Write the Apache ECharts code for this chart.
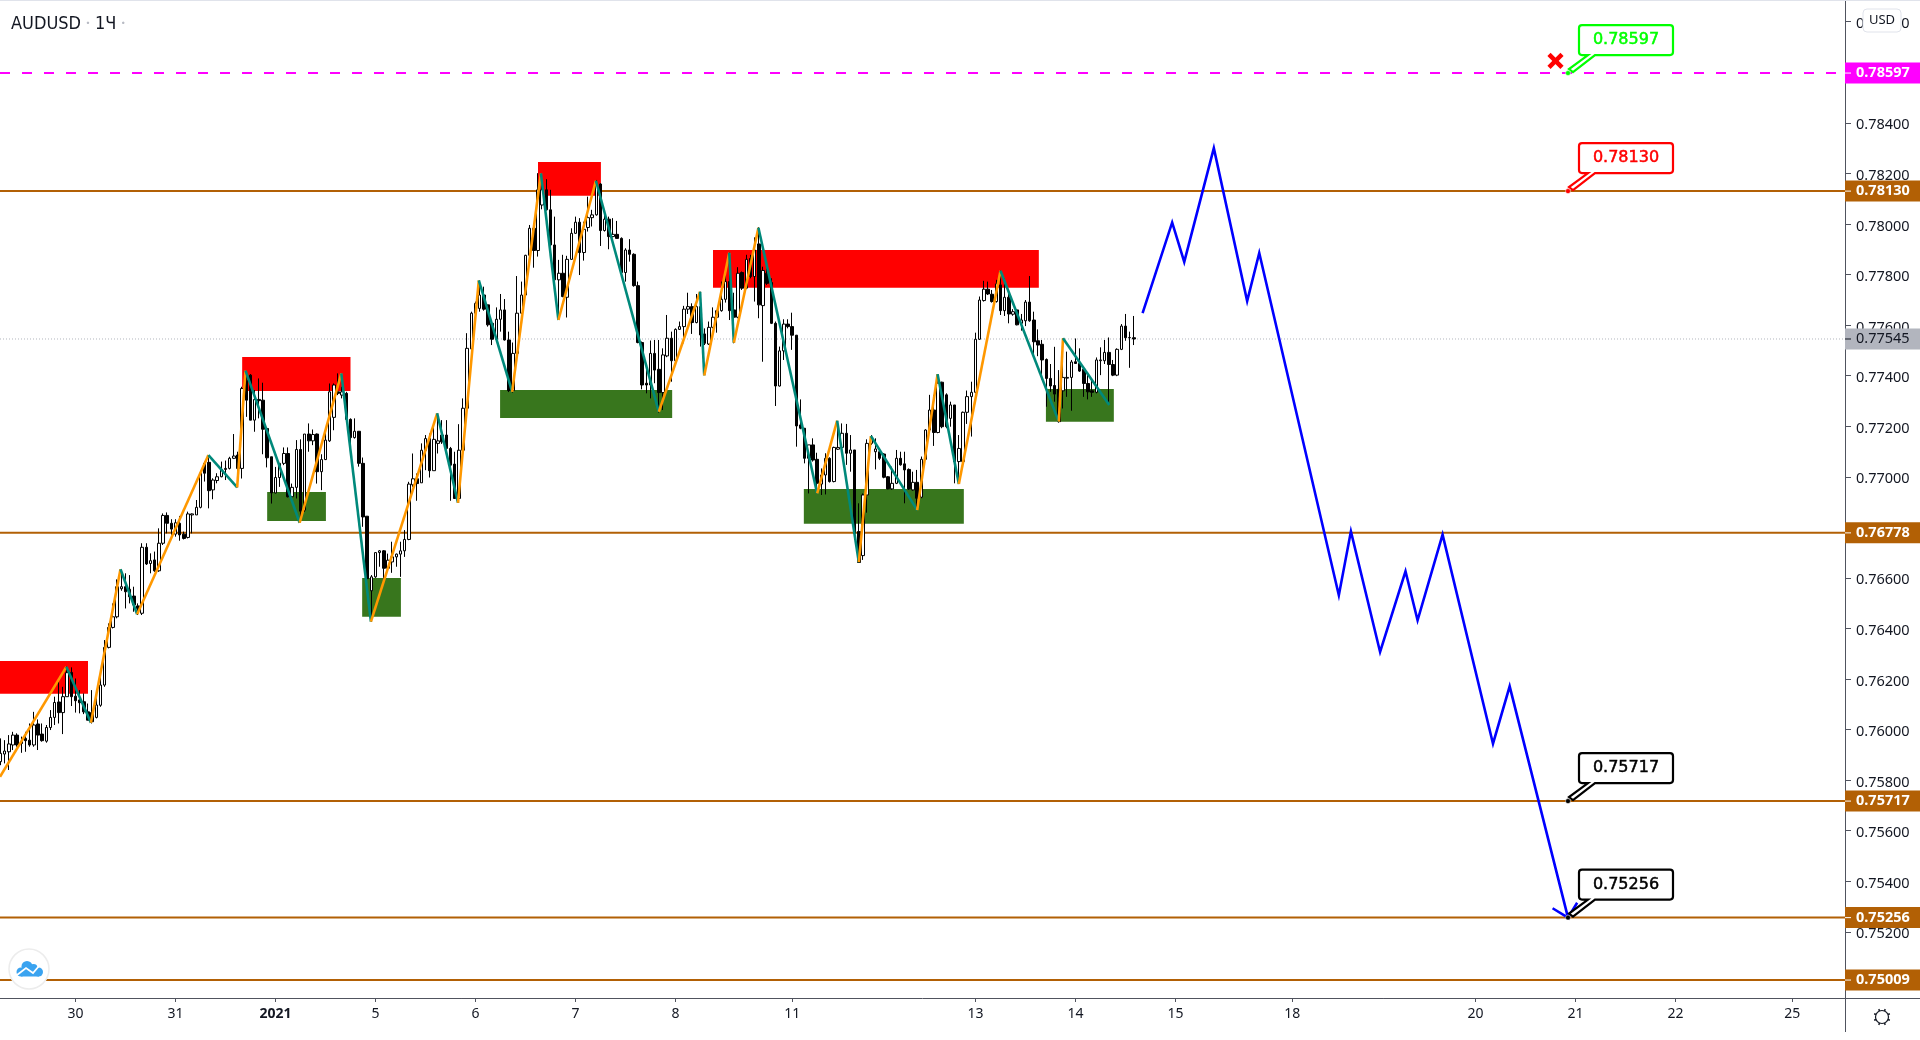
<!DOCTYPE html>
<html>
<head>
<meta charset="utf-8">
<style>html,body{margin:0;padding:0;background:#fff}#c{width:1920px;height:1040px}</style>
<script src="https://cdn.jsdelivr.net/npm/echarts@6/dist/echarts.min.js"></script>
</head>
<body>
<div id="c"></div>
<script>
// All prices below are in points of 0.00001 (76125 = 0.76125). Rows: [open, close, low, high]
const candles = [
[75873,75906,75859,75965],[75903,75915,75866,75958],[75912,75943,75840,75978],[75939,75978,75919,75991],[75978,75939,75932,75985],[75952,75945,75908,75972],
[75965,75956,75912,75991],[75958,75939,75932,76024],[75939,76018,75932,76070],[76022,75978,75919,76040],[75982,75956,75952,76024],[75954,76008,75948,76018],
[76008,76048,75998,76077],[76048,76107,76018,76130],[76109,76067,76024,76189],[76067,76130,75982,76169],[76130,76225,76130,76249],[76226,76130,76093,76246],
[76132,76114,76067,76202],[76117,76106,76064,76156],[76110,76070,76061,76143],[76070,76037,76037,76103],[76067,76031,76024,76156],[76048,76097,76044,76143],
[76096,76176,76090,76209],[76176,76325,76169,76354],[76325,76404,76321,76420],[76404,76446,76400,76499],[76446,76565,76440,76594],[76557,76565,76549,76631],
[76565,76545,76479,76618],[76555,76525,76499,76611],[76528,76493,76466,76565],[76489,76479,76453,76499],[76460,76721,76453,76737],[76721,76655,76651,76737],
[76657,76668,76618,76697],[76671,76628,76624,76704],[76628,76737,76624,76796],[76737,76847,76730,76855],[76847,76816,76776,76859],[76816,76793,76770,76832],
[76773,76818,76763,76832],[76816,76770,76747,76845],[76773,76756,76752,76783],[76760,76853,76756,76862],[76849,76853,76776,76855],[76849,76879,76849,76908],
[76879,77014,76875,77020],[77053,77014,76981,77060],[77057,76945,76875,77079],[76948,76987,76911,76994],[76985,77000,76974,77014],[77000,77029,76998,77060],
[77029,77033,76987,77064],[77033,77073,77029,77079],[77073,77082,77070,77169],[77086,77033,76958,77099],[77033,77349,76993,77356],[77382,77303,77237,77419],
[77402,77224,77224,77406],[77224,77306,77178,77343],[77306,77301,77231,77389],[77303,77188,77089,77372],[77191,77075,77037,77191],[77079,76936,76894,77079],
[76936,76997,76934,77039],[76997,77053,76960,77053],[77053,77092,77046,77116],[77092,76921,76918,77116],[76921,76958,76914,76973],[76958,77108,76914,77145],
[77108,76864,76828,77148],[76868,77169,76861,77169],[77169,77142,77099,77211],[77142,77167,77125,77187],[77169,77020,76973,77171],[77020,77068,76947,77089],
[77068,77145,77066,77178],[77142,77336,77138,77369],[77235,77363,77184,77369],[77336,77330,77323,77409],[77323,77336,77310,77356],[77330,77227,77224,77336],
[77227,77155,77105,77231],[77155,77180,77151,77231],[77180,77053,77040,77180],[77053,76841,76802,77076],[76844,76597,76551,76844],[76549,76604,76426,76611],
[76604,76700,76600,76700],[76700,76707,76644,76710],[76707,76638,76591,76710],[76638,76670,76624,76696],[76663,76683,76620,76743],[76683,76694,76644,76696],
[76694,76707,76604,76743],[76707,76752,76683,76789],[76752,76971,76749,76980],[76968,76992,76960,77092],[76992,76973,76905,77013],[76976,77105,76976,77132],
[77105,77151,77026,77165],[77151,77024,76997,77171],[77024,77148,77024,77200],[77132,77142,77092,77250],[77165,77138,77130,77224],[77165,77112,77079,77224],
[77112,77046,76905,77118],[77050,76914,76914,77099],[76914,77105,76897,77208],[77105,77271,77100,77310],[77271,77508,77267,77568],[77506,77647,77502,77653],
[77647,77686,77640,77693],[77666,77719,77653,77776],[77719,77663,77657,77752],[77680,77601,77594,77680],[77607,77544,77521,77620],[77544,77623,77541,77670],
[77623,77660,77574,77723],[77660,77541,77539,77703],[77541,77341,77335,77574],[77341,77488,77333,77531],[77488,77647,77486,77794],[77647,77719,77644,77772],
[77719,77876,77713,77878],[77876,77983,77874,77996],[77983,77895,77827,78003],[77895,78135,77871,78201],[78075,78135,78058,78201],[78135,78056,78053,78177],
[78056,77917,77910,78135],[77917,77779,77775,78029],[77779,77805,77620,77858],[77805,77713,77710,77878],[77710,77860,77630,77874],[77860,77963,77858,77983],
[77963,78007,77961,78029],[78007,77887,77798,78023],[77887,77979,77855,78009],[77986,78025,77970,78108],[78025,78036,77990,78056],[78036,78161,78033,78174],
[78158,77974,77913,78161],[77974,78019,77970,78036],[78019,77950,77900,78029],[77950,77959,77947,78023],[77959,77943,77943,78012],[77943,77808,77794,77947],
[77808,77897,77772,77904],[77897,77880,77851,77940],[77880,77756,77752,77884],[77756,77531,77528,77772],[77531,77363,77346,77535],[77370,77363,77330,77442],
[77363,77488,77310,77539],[77488,77422,77370,77541],[77425,77333,77254,77541],[77333,77482,77264,77508],[77478,77548,77473,77640],[77548,77459,77376,77574],
[77459,77583,77455,77587],[77583,77594,77581,77614],[77594,77663,77528,77676],[77663,77673,77644,77728],[77673,77610,77565,77686],[77610,77673,77607,77723],
[77673,77561,77515,77732],[77565,77528,77521,77587],[77525,77591,77521,77614],[77591,77631,77587,77670],[77631,77657,77570,77660],[77657,77702,77653,77772],
[77702,77772,77689,77798],[77772,77657,77620,77887],[77660,77631,77528,77728],[77631,77805,77627,77829],[77808,77746,77739,77812],[77746,77860,77742,77878],
[77864,77792,77785,77878],[77792,77897,77693,77947],[77921,77680,77627,77987],[77677,77816,77455,77831],[77805,77765,77759,77825],[77768,77607,77604,77785],
[77607,77359,77280,77614],[77359,77498,77357,77515],[77498,77604,77462,77623],[77604,77594,77587,77623],[77594,77560,77502,77649],[77560,77201,77119,77561],
[77205,77192,77188,77306],[77192,77073,77053,77192],[77073,77126,76934,77126],[77126,77066,77060,77152],[77069,76974,76934,77095],[76971,77007,76928,77033],
[77007,77073,76930,77093],[77073,76981,76977,77077],[76981,77116,76978,77119],[77109,77116,77106,77218],[77116,77172,77112,77211],[77172,77093,77047,77209],
[77093,77106,77020,77165],[77106,76776,76750,77106],[76783,76661,76661,76895],[76688,76928,76671,76934],[76928,77132,76858,77148],[77132,77152,77126,77165],
[77099,77110,77029,77152],[77099,77073,77066,77106],[77090,76998,76994,77093],[77000,76952,76950,77003],[76952,76974,76948,77040],[76974,77073,76971,77106],
[77073,77047,77044,77099],[77051,77027,76895,77099],[77029,76952,76948,77033],[76948,76978,76945,77020],[76978,76915,76868,77027],[76919,77069,76915,77080],
[77069,77185,77066,77188],[77185,77264,77178,77324],[77264,77175,77122,77324],[77175,77370,77172,77406],[77374,77198,77192,77376],[77324,77198,77192,77330],
[77231,77284,77198,77297],[77284,77060,76974,77284],[77060,77112,76971,77165],[77060,77255,77053,77258],[77255,77317,77209,77341],[77317,77334,77159,77376],
[77334,77544,77330,77570],[77544,77699,77541,77713],[77697,77742,77693,77775],[77742,77723,77719,77772],[77722,77693,77689,77739],[77693,77763,77689,77779],
[77759,77657,77640,77816],[77657,77710,77636,77785],[77710,77644,77607,77739],[77643,77653,77637,77663],[77660,77601,77599,77663],[77607,77620,77578,77644],
[77617,77691,77596,77699],[77691,77617,77613,77794],[77620,77534,77475,77653],[77538,77521,77477,77583],[77524,77462,77385,77541],[77464,77389,77277,77468],
[77389,77359,77336,77446],[77361,77327,77297,77514],[77346,77218,77214,77422],[77340,77393,77270,77547],[77390,77393,77316,77495],[77393,77454,77261,77462],
[77455,77448,77446,77547],[77448,77418,77415,77508],[77425,77369,77316,77435],[77369,77336,77306,77402],[77340,77334,77316,77382],[77334,77462,77330,77472],
[77459,77462,77402,77512],[77459,77492,77446,77541],[77492,77444,77287,77551],[77444,77402,77398,77462],[77402,77504,77398,77508],[77504,77596,77501,77604],
[77596,77550,77538,77644],[77550,77551,77431,77574],[77550,77545,77521,77636]
];

// X axis: bar index of each day label
const dayBars   = [18,42,66,90,114,138,162,190,234,258,282,310,354,378,402,430];
const dayLabels = ['30','31','2021','5','6','7','8','11','13','14','15','18','20','21','22','25'];

// Y axis ticks
const priceTicks = [75200,75400,75600,75800,76000,76200,76400,76600,76800,77000,77200,77400,77600,77800,78000,78200,78400,78600,78800];

// Zigzag pivots
const pivotBars   = [-0.12,15.8,21.7,28.8,32.8,49.9,56.8,58.8,71.8,81.8,88.9,104.8,109.8,114.8,122.8,129.7,133.9,142.9,158,167.9,168.9,174.9,176,181.9,196,200.8,206,208.9,220,224.9,230,240,254,255,266.1];
const pivotPrices = [75813,76248,76027,76634,76456,77086,76958,77420,76818,77409,76427,77251,76897,77777,77336,78200,77620,78171,77257,77732,77401,77886,77530,77985,76934,77222,76662,77161,76868,77406,76971,77815,77218,77548,77284];

// Projected path (blue) with its arrow head at the end
const pathBars   = [274.1,281.2,284.1,291.2,299.2,302.1,321.2,324.1,331.1,337.2,340.1,346.1,358.2,362.2,376.2,372.5,376.2,378.4];
const pathPrices = [77647,78006,77850,78300,77695,77885,76531,76784,76307,76626,76432,76771,75944,76171,75256,75293,75256,75315];

// Supply / demand zones: [first bar, last bar, low, high]
const redZones   = [[-0.12,21,76142,76271],[58,84,77339,77474],[129,144.1,78112,78245],[171,249.2,77748,77897]];
const greenZones = [[64,78.1,76825,76940],[86.8,96.1,76446,76599],[119.9,161.2,77232,77343],[192.8,231.2,76814,76952],[250.9,267.2,77218,77347]];

// Horizontal levels
const levelPrices = [78130,76778,75717,75256,75009];
const targetPrice = 78597;
const lastPrice   = 77545;

// Callouts on the price levels
const calloutBar    = 376.2;
const calloutPrices = [78597,78130,75717,75256];
const calloutColors = ['#00ff00','#ff0000','#000000','#000000'];

const crossPoint = [373.2,78645];

const barMin = -0.12, barMax = 442.68;
const priceMin = 0.74938, priceMax = 0.78886;
const AXIS_TEXT = '#131722', AXIS_LINE = '#50535e', LEVEL = '#b26005', MAGENTA = '#ff00ff';
const FONT = '"Noto Sans", sans-serif';

const P = v => v / 100000;
const fmt = v => P(v).toFixed(5);

function zoneSeries(zones, color, name) {
  return {
    type: 'custom', name, z: 3, silent: true, clip: true, animation: false,
    data: zones,
    encode: { x: [0, 1], y: [2, 3] },
    renderItem(params, api) {
      const a = api.coord([api.value(0), P(api.value(3))]);
      const b = api.coord([api.value(1), P(api.value(2))]);
      return { type: 'rect', shape: { x: a[0], y: a[1], width: b[0] - a[0], height: b[1] - a[1] }, style: { fill: color } };
    }
  };
}

function hLine(value, color, width, dash, z) {
  return {
    type: 'line', silent: true, symbol: 'none', z: z, animation: false,
    data: [[barMin, P(value)], [barMax, P(value)]],
    lineStyle: { color, width, type: dash || 'solid' }
  };
}

const zigzag = [];
for (let k = 0; k + 1 < pivotBars.length; k++) {
  const up = pivotPrices[k + 1] > pivotPrices[k];
  zigzag.push({
    type: 'line', silent: true, symbol: 'none', z: 6, animation: false,
    data: [[pivotBars[k], P(pivotPrices[k])], [pivotBars[k + 1], P(pivotPrices[k + 1])]],
    lineStyle: { color: up ? '#ff9800' : '#00897b', width: 2.6 }
  });
}

// Price tags on the right axis
const tagPrices = [targetPrice, ...levelPrices, lastPrice];
const tagFill   = [MAGENTA, LEVEL, LEVEL, LEVEL, LEVEL, LEVEL, '#b2b5be'];
const tagText   = ['#ffffff', '#ffffff', '#ffffff', '#ffffff', '#ffffff', '#ffffff', '#131722'];
const tagBold   = ['bold', 'bold', 'bold', 'bold', 'bold', 'bold', 'normal'];

const tagSeries = {
  type: 'custom', z: 20, silent: true, clip: false, animation: false,
  data: tagPrices.map(v => [barMax, P(v)]),
  encode: { x: 0, y: 1 },
  renderItem(params, api) {
    const i = params.dataIndex;
    const c = api.coord([api.value(0), api.value(1)]);
    return {
      type: 'group',
      children: [
        { type: 'rect', shape: { x: c[0], y: c[1] - 10.5, width: 75, height: 21 }, style: { fill: tagFill[i] } },
        { type: 'rect', shape: { x: c[0], y: c[1] - 0.5, width: 6, height: 1 }, style: { fill: tagText[i] } },
        { type: 'text', x: c[0] + 11, y: c[1], style: { text: fmt(tagPrices[i]), fill: tagText[i], font: tagBold[i] + ' 14.5px ' + FONT, verticalAlign: 'middle', align: 'left' } }
      ]
    };
  }
};

const calloutSeries = {
  type: 'custom', z: 15, silent: true, clip: false, animation: false,
  data: calloutPrices.map(v => [calloutBar, P(v)]),
  encode: { x: 0, y: 1 },
  renderItem(params, api) {
    const i = params.dataIndex, col = calloutColors[i];
    const c = api.coord([api.value(0), api.value(1)]);
    const x = c[0], y = c[1];
    const d = 'M' + (x + 14) + ' ' + (y - 48) + 'L' + (x + 102) + ' ' + (y - 48) +
      'Q' + (x + 105) + ' ' + (y - 48) + ' ' + (x + 105) + ' ' + (y - 45) +
      'L' + (x + 105) + ' ' + (y - 21) + 'Q' + (x + 105) + ' ' + (y - 18) + ' ' + (x + 102) + ' ' + (y - 18) +
      'L' + (x + 27) + ' ' + (y - 18) + 'L' + (x + 5) + ' ' + (y - 1) + 'L' + (x + 1) + ' ' + (y - 4) + 'L' + (x + 20) + ' ' + (y - 18) +
      'L' + (x + 14) + ' ' + (y - 18) + 'Q' + (x + 11) + ' ' + (y - 18) + ' ' + (x + 11) + ' ' + (y - 21) +
      'L' + (x + 11) + ' ' + (y - 45) + 'Q' + (x + 11) + ' ' + (y - 48) + ' ' + (x + 14) + ' ' + (y - 48) + 'Z';
    return {
      type: 'group',
      children: [
        { type: 'path', shape: { pathData: d }, style: { fill: '#ffffff', stroke: col, lineWidth: 2.2 } },
        { type: 'circle', shape: { cx: x, cy: y, r: 2.5 }, style: { fill: col, stroke: '#ffffff', lineWidth: 0.5 } },
        { type: 'text', x: x + 58, y: y - 33, style: { text: fmt(calloutPrices[i]), fill: col, stroke: col, lineWidth: 0.5, font: '16px "DejaVu Sans", sans-serif', align: 'center', verticalAlign: 'middle' } }
      ]
    };
  }
};

const crossSeries = {
  type: 'custom', z: 15, silent: true, clip: false, animation: false,
  data: [[crossPoint[0], P(crossPoint[1])]],
  encode: { x: 0, y: 1 },
  renderItem(params, api) {
    const c = api.coord([api.value(0), api.value(1)]);
    const s = 6.5, st = { stroke: '#ff0000', lineWidth: 4.5 };
    return {
      type: 'group',
      children: [
        { type: 'line', shape: { x1: c[0] - s, y1: c[1] - s, x2: c[0] + s, y2: c[1] + s }, style: st },
        { type: 'line', shape: { x1: c[0] - s, y1: c[1] + s, x2: c[0] + s, y2: c[1] - s }, style: st }
      ]
    };
  }
};

// Chrome that lives outside the plot
const gearTicks = [];
for (let a = 0; a < 8; a++) {
  const t = a * Math.PI / 4 + Math.PI / 8;
  gearTicks.push({
    type: 'line', z: 30, silent: true,
    shape: { x1: 1882 + 6.5 * Math.cos(t), y1: 1017 + 6.5 * Math.sin(t), x2: 1882 + 8.5 * Math.cos(t), y2: 1017 + 8.5 * Math.sin(t) },
    style: { stroke: AXIS_TEXT, lineWidth: 1.5 }
  });
}
const CLOUD = '#3aa3f0';

const chart = echarts.init(document.getElementById('c'), null, { renderer: 'canvas' });
chart.setOption({
  animation: false,
  backgroundColor: '#ffffff',
  title: {
    left: 11, top: 15, padding: 0,
    text: '{n|AUDUSD} {d|·} {n|1Ч} {d|·}',
    textStyle: {
      rich: {
        n: { fontFamily: '"DejaVu Sans Condensed","Noto Sans",sans-serif', fontSize: 18, color: AXIS_TEXT, fontWeight: 'normal' },
        d: { fontFamily: FONT, fontSize: 14, color: '#b8bbc4', fontWeight: 'bold' }
      }
    }
  },
  grid: { left: 0, right: 75, top: 0, bottom: 42, containLabel: false },
  xAxis: {
    type: 'value', min: barMin, max: barMax, splitLine: { show: false },
    axisLine: { show: true, onZero: false, lineStyle: { color: AXIS_LINE, width: 1 } },
    axisTick: { show: true, length: 4, lineStyle: { color: AXIS_LINE }, customValues: dayBars },
    axisLabel: {
      show: true, customValues: dayBars, margin: 9, color: AXIS_TEXT, fontFamily: FONT, fontSize: 14,
      hideOverlap: false, showMinLabel: true, showMaxLabel: true,
      formatter: v => { const s = dayLabels[dayBars.indexOf(v)]; return s === '2021' ? '{b|2021}' : s; },
      rich: { b: { fontWeight: 'bold', fontFamily: FONT, fontSize: 14, color: AXIS_TEXT } }
    }
  },
  yAxis: {
    type: 'value', position: 'right', min: priceMin, max: priceMax, splitLine: { show: false },
    axisLine: { show: true, onZero: false, lineStyle: { color: AXIS_LINE, width: 1 } },
    axisTick: { show: true, length: 6, lineStyle: { color: AXIS_LINE }, customValues: priceTicks.map(P) },
    axisLabel: {
      show: true, customValues: priceTicks.map(P), margin: 11,
      formatter: v => '{a|' + v.toFixed(5) + '}',
      rich: { a: { color: AXIS_TEXT, fontFamily: FONT, fontSize: 14.5, padding: [5, 0, 0, 0] } }
    }
  },
  series: [
    hLine(lastPrice, '#b2b5be', 1, [1, 2], 1),
    ...levelPrices.map(v => hLine(v, LEVEL, 2, 'solid', 2)),
    hLine(targetPrice, MAGENTA, 2, [10, 12], 2),
    zoneSeries(redZones, '#ff0000', 'supply'),
    zoneSeries(greenZones, '#38761d', 'demand'),
    {
      type: 'candlestick', z: 5, silent: true, animation: false, barWidth: 3,
      data: candles.map((r, i) => [i, P(r[0]), P(r[1]), P(r[2]), P(r[3])]),
      encode: { x: 0, y: [1, 2, 3, 4] },
      itemStyle: { color: '#ffffff', color0: '#000000', borderColor: '#000000', borderColor0: '#000000', borderWidth: 1 }
    },
    ...zigzag,
    {
      type: 'line', silent: true, symbol: 'none', z: 7, animation: false,
      data: pathBars.map((b, i) => [b, P(pathPrices[i])]),
      lineStyle: { color: '#0000ff', width: 2.6, join: 'miter' }
    },
    calloutSeries, crossSeries, tagSeries
  ],
  graphic: [
    { type: 'rect', z: 30, silent: true, shape: { x: 0, y: 0, width: 1920, height: 1 }, style: { fill: '#e0e3eb' } },
    { type: 'line', z: 4, silent: true, shape: { x1: 1845, y1: 998.5, x2: 1920, y2: 998.5 }, style: { stroke: AXIS_LINE, lineWidth: 1 } },
    { type: 'line', z: 4, silent: true, shape: { x1: 1845.5, y1: 998, x2: 1845.5, y2: 1032 }, style: { stroke: AXIS_LINE, lineWidth: 1 } },
    { type: 'rect', z: 30, silent: true, shape: { x: 1863, y: 9, width: 38, height: 23, r: 4 }, style: { fill: '#ffffff', stroke: '#e0e3eb', lineWidth: 1 } },
    { type: 'text', z: 31, silent: true, x: 1882, y: 20.5, style: { text: 'USD', fill: AXIS_TEXT, font: '13px ' + FONT, align: 'center', verticalAlign: 'middle' } },
    { type: 'circle', z: 30, silent: true, shape: { cx: 29, cy: 969, r: 20 }, style: { fill: '#ffffff', stroke: '#ececec', lineWidth: 1.5 } },
    { type: 'circle', z: 31, silent: true, shape: { cx: 21, cy: 972, r: 4.5 }, style: { fill: CLOUD } },
    { type: 'circle', z: 31, silent: true, shape: { cx: 27, cy: 966.5, r: 5.5 }, style: { fill: CLOUD } },
    { type: 'circle', z: 31, silent: true, shape: { cx: 33.5, cy: 968, r: 4 }, style: { fill: CLOUD } },
    { type: 'circle', z: 31, silent: true, shape: { cx: 38.5, cy: 972, r: 4.5 }, style: { fill: CLOUD } },
    { type: 'rect', z: 31, silent: true, shape: { x: 21, y: 970, width: 18, height: 6.5 }, style: { fill: CLOUD } },
    { type: 'polyline', z: 32, silent: true, shape: { points: [[17, 975], [26, 968], [33, 973], [39, 966]] }, style: { stroke: '#ffffff', lineWidth: 1.8, fill: null } },
    { type: 'circle', z: 30, silent: true, shape: { cx: 1882, cy: 1017, r: 6.5 }, style: { fill: '#ffffff', stroke: AXIS_TEXT, lineWidth: 1.2 } },
    ...gearTicks
  ]
});
</script>
</body>
</html>
